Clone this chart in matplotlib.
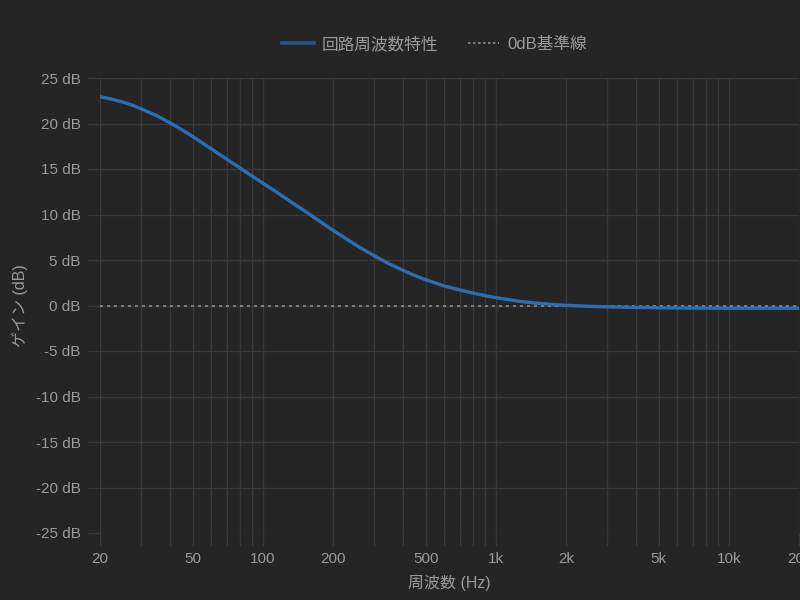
import matplotlib
matplotlib.use("Agg")
import matplotlib.pyplot as plt
from matplotlib.lines import Line2D

plt.rcParams['font.family'] = ['Liberation Sans', 'Noto Sans CJK JP', 'DejaVu Sans']

# Data
freq_hz = [20, 22.5, 25, 27.5, 30, 35, 40, 45, 50, 55, 60, 70, 80, 90, 100, 112, 125, 140,
           150, 175, 200, 225, 250, 275, 300, 350, 400, 450, 500, 600, 700, 800, 900, 1000,
           1250, 1500, 1750, 2000, 2500, 3000, 4000, 5000, 7000, 10000, 15000, 20000]
gain_db = [22.95, 22.67, 22.36, 22.02, 21.62, 20.86, 20.06, 19.3, 18.56, 17.86, 17.22,
           16.07, 15.08, 14.22, 13.45, 12.62, 11.8, 10.95, 10.45, 9.27, 8.25, 7.41, 6.67,
           6.03, 5.47, 4.55, 3.85, 3.28, 2.82, 2.15, 1.7, 1.36, 1.08, 0.86, 0.47, 0.25,
           0.11, 0.02, -0.09, -0.15, -0.21, -0.25, -0.28, -0.3, -0.3, -0.3]
ref_freq = [20, 20000]
ref_db = [0, 0]

grid_freqs = [20, 30, 40, 50, 60, 70, 80, 90, 100, 200, 300, 400, 500, 600, 700, 800, 900,
              1000, 2000, 3000, 4000, 5000, 6000, 7000, 8000, 9000, 10000, 20000]
label_map = {20: "20", 50: "50", 100: "100", 200: "200", 500: "500", 1000: "1k",
             2000: "2k", 5000: "5k", 10000: "10k", 20000: "20k"}
y_ticks = [25, 20, 15, 10, 5, 0, -5, -10, -15, -20, -25]

series_name = "回路周波数特性"
ref_name = "0dB基準線"
x_title = "周波数 (Hz)"
y_title = "ゲイン (dB)"

bg = "#252525"
grid_c = "#393939"
text_c = "#9a9a9a"
line_c = "#2f6db3"

fig = plt.figure(figsize=(8, 6), dpi=100, facecolor=bg)
ax = fig.add_axes([0.125, 1 - 533 / 600, 1 - 0.125 - 0.001, (533 - 78) / 600])
ax.set_facecolor(bg)

ax.plot(ref_freq, ref_db, color="#8a8a8a", lw=1.2, linestyle=(0, (1.8, 2.4)), zorder=2)
ax.plot(freq_hz, gain_db, color=line_c, lw=2.4, solid_capstyle='round',
        solid_joinstyle='round', zorder=3)

ax.set_xscale('log')
ax.set_xlim(20, 20000)
ax.set_ylim(-25, 25)
ax.set_xticks(grid_freqs)
ax.set_xticklabels([label_map.get(f, "") for f in grid_freqs])
ax.xaxis.set_minor_locator(matplotlib.ticker.NullLocator())
ax.set_yticks(y_ticks)
ax.set_yticklabels([f"{v} dB" for v in y_ticks])

ax.grid(True, color=grid_c, lw=1.0)
for s in ax.spines.values():
    s.set_visible(False)
ax.tick_params(axis='both', colors=grid_c, length=9, width=1.0, labelcolor=text_c,
               labelsize=11, pad=5)

ax.set_xlabel(x_title, color=text_c, fontsize=11.5, labelpad=6)
ax.set_ylabel(y_title, color=text_c, fontsize=11.5, labelpad=5.5)

handles = [Line2D([], [], color="#2b5585", lw=2.6),
           Line2D([], [], color="#8a8a8a", lw=1.2, linestyle=(0, (1.5, 1.5)))]
leg = fig.legend(handles, [series_name, ref_name], loc='center', bbox_to_anchor=(0.543, 1 - 44 / 600),
                 ncol=2, frameon=False, fontsize=12, labelcolor=text_c, handlelength=1.9,
                 handletextpad=0.45, columnspacing=1.8)

fig.savefig("out.png", dpi=100, facecolor=bg)
